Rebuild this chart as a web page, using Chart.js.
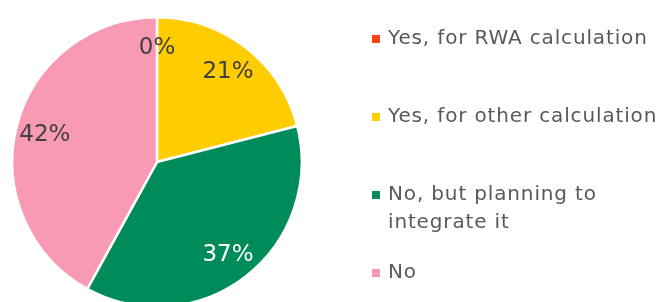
<!DOCTYPE html>
<html>
<head>
<meta charset="utf-8">
<script src="https://cdn.jsdelivr.net/npm/chart.js@4/dist/chart.umd.min.js"></script>
<style>
  html, body { margin: 0; padding: 0; background: #fff; overflow: hidden; }
  #wrap { position: relative; width: 657px; height: 310px; }
</style>
</head>
<body>
<div id="wrap"><canvas id="pie"></canvas></div>
<script>
// Dane wykresu
const categories = ['Yes, for RWA calculation', 'Yes, for other calculation', 'No, but planning to\nintegrate it', 'No'];
const shares = [0, 21, 37, 42];
const sliceColors = ['#fa4616', '#ffcc00', '#008c5a', '#f99ab4'];
const labelColors = ['#404040', '#404040', '#ffffff', '#404040'];

const FONT = '"DejaVu Sans"';

/**
 * Procenty na wycinkach
 */
const pctPlugin = {
  id: 'pctPlugin',
  afterDatasetsDraw(chart) {
    const {ctx} = chart;
    const meta = chart.getDatasetMeta(0);
    ctx.save();
    ctx.font = '23px ' + FONT;
    ctx.textAlign = 'center';
    ctx.textBaseline = 'middle';
    meta.data.forEach((arc, i) => {
      const mid = (arc.startAngle + arc.endAngle) / 2;
      const r = arc.outerRadius * 0.8;
      ctx.fillStyle = labelColors[i];
      ctx.fillText(shares[i] + '%', arc.x + Math.cos(mid) * r, arc.y + Math.sin(mid) * r + 2);
    });
    ctx.restore();
  }
};

/**
 * Legenda po prawej (wielolinijkowe etykiety)
 */
const legendPlugin = {
  id: 'legendPlugin',
  afterDraw(chart) {
    const {ctx} = chart;
    ctx.save();
    ctx.font = '20px ' + FONT;
    ctx.letterSpacing = '0.85px';
    ctx.textBaseline = 'middle';
    categories.forEach((label, i) => {
      const y = 39 + i * 78;
      ctx.fillStyle = sliceColors[i];
      ctx.fillRect(372, y - 4, 8, 8);
      ctx.fillStyle = '#595959';
      label.split('\n').forEach((line, j) => {
        ctx.fillText(line, 388, y + j * 28);
      });
    });
    ctx.restore();
  }
};

new Chart(document.getElementById('pie'), {
  type: 'pie',
  data: {
    labels: categories,
    datasets: [{
      data: shares,
      backgroundColor: sliceColors,
      borderColor: '#ffffff',
      borderWidth: 2.5
    }]
  },
  options: {
    responsive: true,
    maintainAspectRatio: false,
    animation: false,
    layout: { padding: { left: 10, top: 16, right: 353, bottom: 2 } },
    plugins: {
      legend: { display: false },
      tooltip: { enabled: false }
    }
  },
  plugins: [pctPlugin, legendPlugin]
});
</script>
</body>
</html>
